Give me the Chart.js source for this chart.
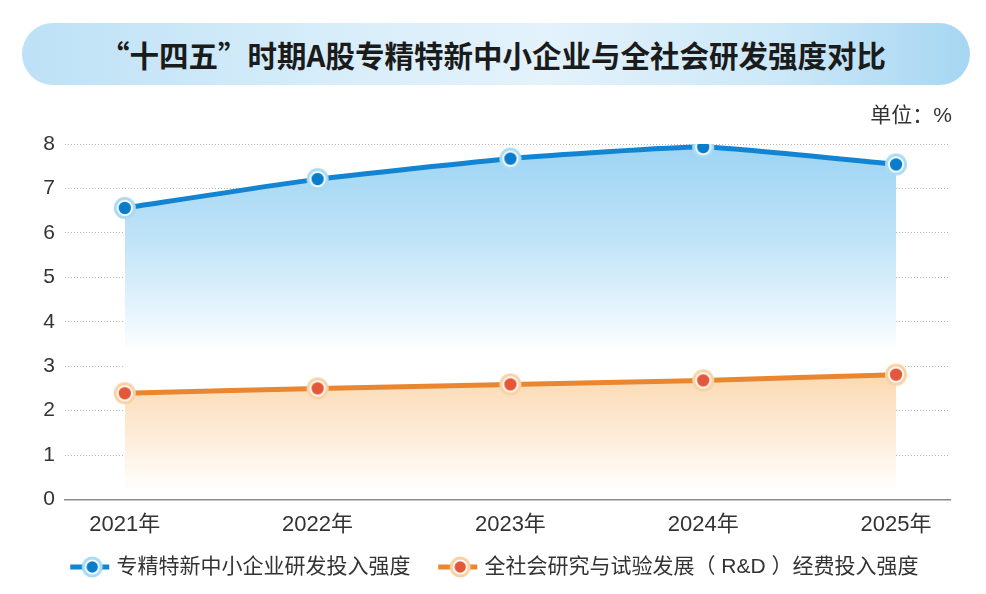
<!DOCTYPE html>
<html lang="zh-CN">
<head>
<meta charset="utf-8">
<title>“十四五”时期A股专精特新中小企业与全社会研发强度对比</title>
<script src="https://cdn.jsdelivr.net/npm/chart.js@4.4.1/dist/chart.umd.min.js"></script>
<style>
  html, body { margin: 0; padding: 0; background: #fff; }
  #wrap { position: relative; width: 986px; height: 594px; overflow: hidden;
          font-family: "Liberation Sans", "Noto Sans CJK SC", sans-serif; }
  #chart { position: absolute; left: 0; top: 0; }
  #title { position: absolute; left: 22px; top: 23px; width: 948px; height: 62px;
           border-radius: 31px; text-align: center; line-height: 62px; text-indent: -6px;
           font-family: "Noto Sans CJK SC", sans-serif; font-weight: bold; font-size: 29.5px; color: #1b1b1b;
           background: linear-gradient(90deg, #bde1f6 0%, #d9eefa 35%, #e3f2fb 55%, #cce8f8 80%, #a6d6f2 100%); }
  #unit { position: absolute; right: 34px; top: 98px; font-size: 21px; color: #333; }
</style>
</head>
<body>
<div id="wrap">
  <canvas id="chart" width="986" height="594"></canvas>
  <div id="title">“十四五”时期A股专精特新中小企业与全社会研发强度对比</div>
  <div id="unit">单位：%</div>
</div>
<script>
// data
const years = [2021, 2022, 2023, 2024, 2025];
const smeIntensity = [6.56, 7.21, 7.67, 7.93, 7.54];      // 专精特新中小企业研发投入强度
const nationalIntensity = [2.39, 2.50, 2.59, 2.68, 2.81]; // 全社会R&D经费投入强度
const seriesNames = ['专精特新中小企业研发投入强度', '全社会研究与试验发展（ R&D ）经费投入强度'];
const yMin = 0, yMax = 8;

const blue = '#1384d2', blueDot = '#0a7ccc', blueHalo = '#a9dbf5';
const orange = '#e9862f', orangeDot = '#e4583a', orangeHalo = '#f8d2a3';

// point marker: halo + white ring + dot
function marker(halo, dot) {
  const c = document.createElement('canvas');
  c.width = 24; c.height = 24;
  const g = c.getContext('2d');
  ring(g, 12, 12, 11, halo, dot);
  return c;
}

function ring(g, cx, cy, r, halo, dot) {
  g.beginPath(); g.arc(cx, cy, r, 0, Math.PI * 2); g.fillStyle = halo; g.fill();
  g.beginPath(); g.arc(cx, cy, r - 3, 0, Math.PI * 2); g.fillStyle = '#fff'; g.fill();
  g.beginPath(); g.arc(cx, cy, r - 4.8, 0, Math.PI * 2); g.fillStyle = dot; g.fill();
}

// legend marker: dash, ring, dash (drawn on the right part of a wider canvas)
function legendMarker(halo, dot, dashColor) {
  const c = document.createElement('canvas');
  c.width = 52; c.height = 24;
  const g = c.getContext('2d');
  const m = 34, cy = 12;
  g.fillStyle = dashColor;
  g.fillRect(m - 22, cy - 2.5, 12, 5);
  g.fillRect(m + 9, cy - 2.5, 8, 5);
  ring(g, m, cy, 10.5, halo, dot);
  return c;
}

const blueMarker = marker(blueHalo, blueDot);
const orangeMarker = marker(orangeHalo, orangeDot);
const legendMarkers = [legendMarker(blueHalo, blueDot, blue), legendMarker(orangeHalo, orangeDot, orange)];

function gradient(context, from, to, stops) {
  const chart = context.chart;
  if (!chart.chartArea) return null;
  const y = chart.scales.y;
  const g = chart.ctx.createLinearGradient(0, y.getPixelForValue(from), 0, y.getPixelForValue(to));
  stops.forEach(s => g.addColorStop(s[0], s[1]));
  return g;
}

const family = '"Liberation Sans", "Noto Sans CJK SC", sans-serif';

new Chart(document.getElementById('chart'), {
  type: 'line',
  data: {
    datasets: [
      {
        label: seriesNames[0],
        data: years.map((x, i) => ({ x: x, y: smeIntensity[i] })),
        borderColor: blue,
        borderWidth: 5,
        tension: 0.15,
        pointStyle: blueMarker,
        fill: '+1',
        backgroundColor: ctx => gradient(ctx, 8, 3.3, [[0, '#9cd4f3'], [0.45, '#bfe3f7'], [0.8, '#e6f4fc'], [1, '#ffffff']])
      },
      {
        label: seriesNames[1],
        data: years.map((x, i) => ({ x: x, y: nationalIntensity[i] })),
        borderColor: orange,
        borderWidth: 5,
        tension: 0.1,
        pointStyle: orangeMarker,
        fill: { value: 0.04 },
        backgroundColor: ctx => gradient(ctx, 2.8, 0.2, [[0, '#fbdab3'], [0.5, '#fdebd7'], [1, '#ffffff']])
      }
    ]
  },
  options: {
    responsive: false,
    animation: false,
    layout: { padding: { top: 144, right: 36, left: 31, bottom: 6.5 } },
    scales: {
      x: {
        type: 'linear',
        min: 2020.69,
        max: 2025.28,
        afterBuildTicks: scale => { scale.ticks = years.map(v => ({ value: v })); },
        afterFit: scale => { scale.height = 37; },
        grid: { display: false },
        border: { display: true, color: '#8a8a8a', width: 1.5 },
        ticks: {
          padding: 4,
          maxRotation: 0,
          autoSkip: false,
          color: '#333',
          font: { family: family, size: 22 },
          callback: v => v + '年'
        }
      },
      y: {
        min: yMin,
        max: yMax,
        afterFit: scale => { scale.width = 34; },
        grid: { color: '#b5b5b5', lineWidth: 1, drawTicks: false },
        border: { display: false, dash: [1, 2] },
        ticks: { stepSize: 1, padding: 10, color: '#333', font: { family: family, size: 21 } }
      }
    },
    plugins: {
      filler: { drawTime: 'beforeDatasetsDraw' },
      tooltip: { enabled: false },
      legend: {
        position: 'bottom',
        labels: {
          usePointStyle: true,
          pointStyleWidth: 43.5,
          padding: 20,
          color: '#333',
          font: { family: family, size: 21 },
          generateLabels: chart => Chart.defaults.plugins.legend.labels.generateLabels(chart)
            .map((item, i) => Object.assign(item, { pointStyle: legendMarkers[i] }))
        }
      }
    }
  }
});
</script>
</body>
</html>
